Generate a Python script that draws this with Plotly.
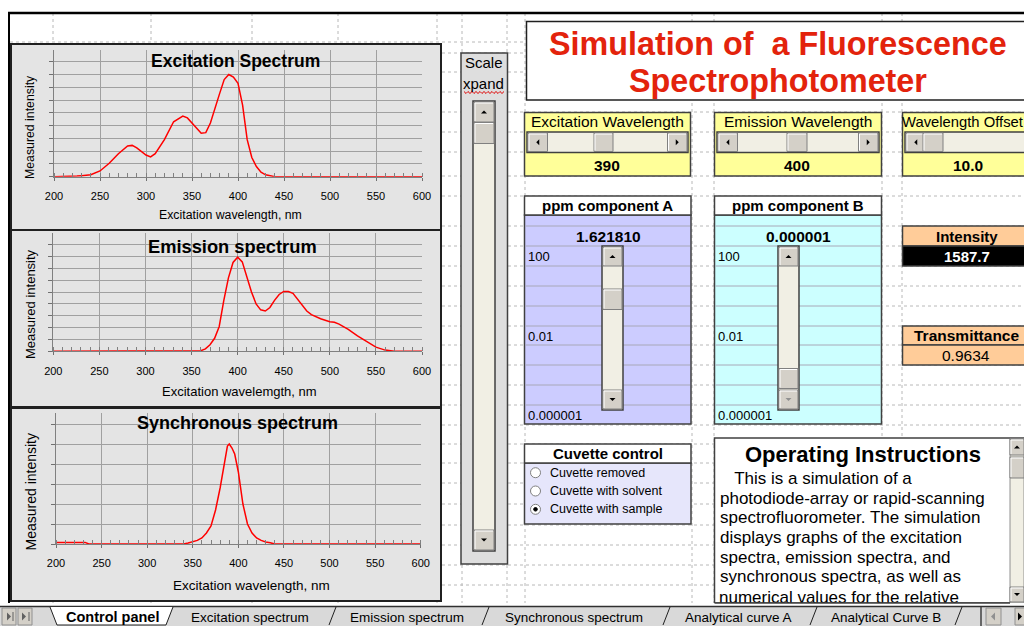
import plotly.graph_objects as go

W, H = 1024, 626
F = "Liberation Sans, Arial, sans-serif"

# ---------------- data ----------------
exc_wl = [200, 210, 220, 225, 230, 240, 250, 260, 270, 280, 285, 290, 300, 305, 310, 320, 330, 340, 345, 350,
          360, 365, 370, 380, 385, 390, 395, 400, 405, 410, 415, 420, 425, 430, 435, 440, 450, 500, 550, 600]
exc_int = [0, 0, 0, 0.05, 0.08, 0.15, 0.45, 1.05, 1.8, 2.4, 2.45, 2.25, 1.7, 1.55, 1.8, 2.9, 4.3, 4.75, 4.6, 4.2,
           3.4, 3.45, 4.2, 6.5, 7.6, 8.0, 7.8, 7.3, 5.6, 2.9, 1.5, 0.8, 0.35, 0.15, 0.05, 0, 0, 0, 0, 0]

em_wl = [200, 250, 300, 350, 355, 360, 365, 370, 375, 380, 385, 390, 395, 400, 405, 410, 415, 420, 425, 430,
         435, 440, 445, 450, 455, 460, 465, 470, 475, 480, 490, 500, 505, 510, 520, 530, 540, 550, 560, 565,
         570, 600]
em_int = [0, 0, 0, 0, 0, 0.05, 0.2, 0.55, 1.1, 2.1, 4.3, 6.2, 7.5, 7.95, 7.55, 6.3, 5.0, 4.0, 3.5, 3.4,
          3.7, 4.3, 4.8, 5.05, 5.05, 4.9, 4.4, 3.8, 3.4, 3.1, 2.75, 2.5, 2.45, 2.3, 1.85, 1.3, 0.8, 0.35, 0.1, 0.02,
          0, 0]

syn_wl = [200, 232, 236, 300, 340, 345, 350, 355, 360, 365, 370, 375, 380, 385, 388, 390, 393, 396, 400, 405,
          410, 415, 420, 425, 430, 435, 440, 500, 600]
syn_int = [0.08, 0.08, 0, 0, 0, 0.05, 0.1, 0.18, 0.3, 0.55, 0.9, 1.7, 2.8, 4.2, 4.9, 5.0, 4.8, 4.5, 3.6, 2.0,
           1.0, 0.55, 0.3, 0.18, 0.1, 0.06, 0, 0, 0]

tick_vals = [200, 250, 300, 350, 400, 450, 500, 550, 600]
tick_text = ["200", "250", "300", "350", "400", "450", "500", "550", "600"]

chart_titles = ["Excitation Spectrum", "Emission spectrum", "Synchronous spectrum"]
x_titles = ["Excitation wavelength, nm", "Excitation wavelemgth, nm", "Excitation wavelength, nm"]
y_title = "Measured intensity"

exc_value, em_value, offset_value = "390", "400", "10.0"
ppmA_value, ppmB_value = "1.621810", "0.000001"
ppm_labels = ["100", "0.01", "0.000001"]
intensity_value, transmittance_value = "1587.7", "0.9634"
cuvette_options = ["Cuvette removed", "Cuvette with solvent", "Cuvette with sample"]
cuvette_selected = 2
instructions = ["   This is a simulation of a",
                "photodiode-array or rapid-scanning",
                "spectrofluorometer. The simulation",
                "displays graphs of the excitation",
                "spectra, emission spectra, and",
                "synchronous spectra, as well as"]
instructions_cut = "numerical values for the relative"
tabs = ["Excitation spectrum", "Emission spectrum", "Synchronous spectrum", "Analytical curve A", "Analytical Curve B"]

# ---------------- helpers ----------------
shapes, ann = [], []


def X(px):
    return px / W


def Y(py):
    return 1 - py / H


def rect(x0, y0, x1, y1, fill=None, line=None, lw=1, layer="below", dash=None):
    shapes.append(dict(type="rect", xref="paper", yref="paper", x0=X(x0), x1=X(x1), y0=Y(y1), y1=Y(y0),
                       fillcolor=fill or "rgba(0,0,0,0)",
                       line=dict(color=line or "rgba(0,0,0,0)", width=lw if line else 0, dash=dash),
                       layer=layer))


def seg(x0, y0, x1, y1, color="#000", lw=1, dash=None, layer="below"):
    shapes.append(dict(type="line", xref="paper", yref="paper", x0=X(x0), x1=X(x1), y0=Y(y0), y1=Y(y1),
                       line=dict(color=color, width=lw, dash=dash), layer=layer))


def poly(pts, fill="#000", line=None, lw=1, layer="below", closed=True):
    d = "M " + " L ".join("%.5f,%.5f" % (X(a), Y(b)) for a, b in pts) + (" Z" if closed else "")
    shapes.append(dict(type="path", xref="paper", yref="paper", path=d,
                       fillcolor=fill if closed else "rgba(0,0,0,0)",
                       line=dict(color=line or "rgba(0,0,0,0)", width=lw if line else 0), layer=layer))


def circ(cx, cy, r, fill, line, lw=1):
    shapes.append(dict(type="circle", xref="paper", yref="paper", x0=X(cx - r), x1=X(cx + r),
                       y0=Y(cy + r), y1=Y(cy - r), fillcolor=fill, line=dict(color=line, width=lw),
                       layer="below"))


def txt(x, y, s, size=12, color="black", bold=False, xanchor="center", angle=0, family=F):
    ann.append(dict(xref="paper", yref="paper", x=X(x), y=Y(y), text=("<b>%s</b>" % s if bold else s),
                    showarrow=False, font=dict(size=size, color=color, family=family),
                    xanchor=xanchor, yanchor="middle", textangle=angle, borderpad=0))


BTN = "#d4d0c8"
TRACK = "#f1efe4"
EDGE = "#404040"


def button(x0, y0, x1, y1, layer="below"):
    rect(x0, y0, x1, y1, fill=BTN, line="#808080", lw=1, layer=layer)
    seg(x0 + 1, y0 + 1, x1 - 1, y0 + 1, "#ffffff", 1, layer=layer)
    seg(x0 + 1, y0 + 1, x0 + 1, y1 - 1, "#ffffff", 1, layer=layer)


def tri(cx, cy, direction, s=3, color="#000", layer="below"):
    if direction == "up":
        pts = [(cx - s, cy + s / 2), (cx + s, cy + s / 2), (cx, cy - s / 2)]
    elif direction == "down":
        pts = [(cx - s, cy - s / 2), (cx + s, cy - s / 2), (cx, cy + s / 2)]
    elif direction == "left":
        pts = [(cx + s / 2, cy - s), (cx + s / 2, cy + s), (cx - s / 2, cy)]
    else:
        pts = [(cx - s / 2, cy - s), (cx - s / 2, cy + s), (cx + s / 2, cy)]
    poly(pts, fill=color, layer=layer)


def hscroll(x0, y0, x1, y1, t0, t1, right_btn=True):
    rect(x0, y0, x1, y1, fill=TRACK, line=EDGE, lw=1.5)
    h = y1 - y0
    button(x0 + 1, y0 + 1, x0 + h, y1 - 1)
    tri(x0 + 1 + (h - 1) / 2, (y0 + y1) / 2, "left")
    if right_btn:
        button(x1 - h, y0 + 1, x1 - 1, y1 - 1)
        tri(x1 - 1 - (h - 1) / 2, (y0 + y1) / 2, "right")
    button(t0, y0 + 1, t1, y1 - 1)


def vscroll(x0, y0, x1, y1, t0, t1, down_grey=False):
    rect(x0, y0, x1, y1, fill=TRACK, line=EDGE, lw=1.5)
    w = x1 - x0
    button(x0 + 1, y0 + 1, x1 - 1, y0 + w - 1)
    tri((x0 + x1) / 2, y0 + w / 2, "up")
    button(x0 + 1, y1 - w + 1, x1 - 1, y1 - 1)
    tri((x0 + x1) / 2, y1 - w / 2, "down", color="#909090" if down_grey else "#000")
    button(x0 + 1, t0, x1 - 1, t1)


# ---------------- spreadsheet background ----------------
GRID = "#b8b8b8"
for gy in [42, 53, 72, 92, 112, 132, 152, 176, 196, 226, 246, 266, 286, 306, 326, 345, 365, 385, 405, 425,
           444, 463, 483, 504, 525, 545, 565, 585]:
    seg(10, gy, 1024, gy, GRID, 1, dash="dot")
for gx in [53, 151, 252, 338, 437, 462, 507, 525, 692, 714, 882, 902]:
    seg(gx, 13, gx, 606, GRID, 1, dash="dot")
seg(8, 13, 1024, 13, "#000", 2.5)
seg(9, 13, 9, 606, "#000", 2)

# ---------------- chart boxes ----------------
CHART_BG = "#e4e4e4"
boxes = [(11, 44, 441, 230), (11, 230, 441, 407), (11, 408, 441, 601)]
for (a, b, c, d) in boxes:
    rect(a, b, c, d, fill=CHART_BG, line="#202020", lw=2)

# plot areas: x0, x1, y of top gridline, y of baseline, number of grid steps, axis max
plots = [(54, 422, 61.7, 176.7, 9, 9.95), (53.3, 422, 244.7, 351.3, 9, 9.95), (56, 420.7, 424, 544, 6, 6.55)]
title_pos = [(235.5, 61, 17.5), (232.5, 246, 18.3), (237, 422.5, 18)]
xt_pos = [(230.5, 214.5, 12.3), (239, 391.5, 13), (251.5, 585, 13.5)]
yt_pos = [(30, 127, 12.3), (30, 304, 13), (30.5, 492, 14)]
standoff = [6, 6, 6]

fig = go.Figure()
series = [(exc_wl, exc_int), (em_wl, em_int), (syn_wl, syn_int)]
for i, ((xs, ys), (x0, x1, yt, yb, ng, ymax)) in enumerate(zip(series, plots)):
    n = "" if i == 0 else str(i + 1)
    ytop = yb - (yb - yt) / ng * ymax
    fig.add_trace(go.Scatter(x=xs, y=ys, mode="lines", line=dict(color="#ff0000", width=1.5),
                             xaxis="x" + n, yaxis="y" + n, showlegend=False, hoverinfo="skip"))
    fig.layout["xaxis" + n] = dict(domain=[X(x0), X(x1)], range=[200, 600], tickmode="array",
                                   tickvals=tick_vals, ticktext=tick_text, ticks="outside", ticklen=3,
                                   tickcolor="#707070", showgrid=True, gridcolor="#a0a0a0", gridwidth=1,
                                   showline=True, linecolor="#808080", linewidth=1, zeroline=False,
                                   tickfont=dict(size=11, family=F, color="#000"),
                                   ticklabelstandoff=standoff[i], automargin=False,
                                   minor=dict(dtick=10, tick0=200, ticks="inside", ticklen=4,
                                              tickcolor="#808080", showgrid=False),
                                   anchor="y" + n, fixedrange=True)
    fig.layout["yaxis" + n] = dict(domain=[Y(yb), Y(ytop)], range=[0, ymax], dtick=1, tick0=0,
                                   showticklabels=False, ticks="outside", ticklen=4, tickcolor="#707070",
                                   showgrid=True, gridcolor="#a0a0a0", gridwidth=1, showline=True,
                                   linecolor="#808080", zeroline=False, anchor="x" + n, fixedrange=True,
                                   automargin=False)
    tx, ty, ts = title_pos[i]
    txt(tx, ty, chart_titles[i], ts, bold=True)
    ax, ay, asz = xt_pos[i]
    txt(ax, ay, x_titles[i], asz)
    yx, yy, ysz = yt_pos[i]
    txt(yx, yy, y_title, ysz, angle=-90)

# ---------------- title box ----------------
rect(526.5, 21.5, 1030, 100, fill="#ffffff", line="#202020", lw=1.5)
txt(777.5, 44, "Simulation of&nbsp; a Fluorescence", 32.3, color="#e3230c", bold=True)
txt(778, 81.5, "Spectrophotometer", 32.3, color="#e3230c", bold=True)

# ---------------- scale expand ----------------
rect(461, 53, 507.5, 564, fill="#dedede", line=EDGE, lw=1.5)
txt(483.5, 62.5, "Scale", 15)
txt(483, 83.5, "xpand", 15)
zz = []
for k in range(21):
    zz.append((464 + k * 2, 92.5 + (1 if k % 2 else -1)))
poly(zz, line="#e00000", lw=1, closed=False)
vscroll(473, 101, 495, 551, 122.5, 143.5)

# ---------------- wavelength controls ----------------
YEL = "#ffff99"
for (x0, x1, label, val, t0, t1, lx, vx, lsz, lanc) in [
        (524.5, 690.5, "Excitation Wavelength", exc_value, 594, 613, 607, 607, 15.5, "center"),
        (714.5, 881.5, "Emission Wavelength", em_value, 787, 807, 798, 797, 15.5, "center"),
        (902.5, 1030, "Wavelength Offset", offset_value, 923, 943, 901, 968, 14.8, "left")]:
    rect(x0, 112.5, x1, 176, fill=YEL, line=EDGE, lw=1.5)
    txt(lx, 121.7, label, lsz, xanchor=lanc)
    hscroll(x0 + 2.5, 132, min(x1 - 2.5, 1040), 152.5, t0, t1, right_btn=(x1 < 1000))
    txt(vx, 165.5, val, 15.5, bold=True)

# ---------------- ppm components ----------------
for (x0, x1, label, val, col, s0, s1, grey, thumb) in [
        (524.5, 691, "ppm component A", ppmA_value, "#ccccff", 602, 623, False, (289, 309.5)),
        (714.5, 881.5, "ppm component B", ppmB_value, "#ccffff", 778, 799, True, (368.5, 388.5))]:
    rect(x0, 215, x1, 424, fill=col, line=EDGE, lw=1.5)
    for gy in [226, 246, 266, 286, 306, 326, 345, 365, 385, 405]:
        seg(x0 + 1, gy, x1 - 1, gy, "#a8a8b8", 1)
    rect(x0, 196, x1, 215, fill="#ffffff", line=EDGE, lw=1.5)
    txt((x0 + x1) / 2, 206, label, 15, bold=True)
    txt((x0 + x1) / 2 + 0.5, 236, val, 15.5, bold=True)
    for lab, ly in zip(ppm_labels, [256, 336, 415]):
        txt(x0 + 2, ly, lab, 13, xanchor="left")
    vscroll(s0, 246, s1, 410, thumb[0], thumb[1], down_grey=grey)

# ---------------- intensity / transmittance ----------------
PEACH = "#ffcc99"
rect(902.5, 226, 1030, 246, fill=PEACH, line=EDGE, lw=1.5)
txt(966.5, 236, "Intensity", 15, bold=True)
rect(902.5, 246, 1030, 266, fill="#000000", line=EDGE, lw=1.5)
txt(966.5, 256, intensity_value, 15, color="#ffffff", bold=True)
rect(902.5, 326, 1030, 345, fill=PEACH, line=EDGE, lw=1.5)
txt(966, 335.5, "Transmittance", 15.5, bold=True)
rect(902.5, 345, 1030, 365, fill=PEACH, line=EDGE, lw=1.5)
txt(966, 355, transmittance_value, 15.5)

# ---------------- cuvette control ----------------
rect(524.5, 463, 691, 524, fill="#e6e6fb", line=EDGE, lw=1.5)
rect(524.5, 444, 691, 463, fill="#ffffff", line=EDGE, lw=1.5)
txt(608, 453.5, "Cuvette control", 15, bold=True)
for k, (opt, oy) in enumerate(zip(cuvette_options, [472.7, 491, 509.3])):
    circ(535.5, oy, 5, "#ffffff", "#808080", 1)
    if k == cuvette_selected:
        circ(535.5, oy, 1.8, "#000000", "#000000", 1)
    txt(549, oy, opt, 12.5, xanchor="left")

# ---------------- operating instructions ----------------
rect(714.5, 438, 1030, 603, fill="#ffffff", line=EDGE, lw=1.5)
rect(1010, 439, 1024, 603, fill=TRACK, line="#909090", lw=1)
button(1010, 439, 1024, 455)
tri(1017, 447, "up", 3)
button(1010, 457, 1024, 478)
button(1010, 587, 1024, 602)
tri(1017, 594.5, "down", 3)
txt(862.5, 454, "Operating Instructions", 22, bold=True)
for k, line in enumerate(instructions):
    txt(719, 478.3 + k * 19.7, line.replace("   ", "&nbsp;&nbsp;&nbsp;"), 17, xanchor="left")

# clipped last line: text trace on a full-page axis, then covered by shapes above
fig.add_trace(go.Scatter(x=[719], y=[598.5], mode="text", text=[instructions_cut], textposition="middle right",
                         textfont=dict(size=17, family=F, color="#000"), xaxis="x4", yaxis="y4",
                         showlegend=False, hoverinfo="skip"))
fig.layout["xaxis4"] = dict(domain=[0, 1], range=[0, W], visible=False, fixedrange=True, automargin=False)
fig.layout["yaxis4"] = dict(domain=[0, 1], range=[H, 0], visible=False, fixedrange=True, automargin=False)

# ---------------- sheet tab bar (above) ----------------
rect(0, 603, 1024, 606, fill="#ffffff", layer="above")
seg(714.5, 603, 1010, 603, EDGE, 1.5, layer="above")
rect(0, 606, 1024, 626, fill="#d9d9d9", layer="above")
seg(0, 606.5, 1024, 606.5, "#303030", 1.5, layer="above")
for bx in [2, 18]:
    rect(bx, 608, bx + 14, 625, fill="#d4d0c8", line="#909090", layer="above")
tri(9, 616.5, "right", 4, "#606060", layer="above")
tri(24, 616.5, "right", 4, "#606060", layer="above")
seg(13, 612, 13, 621, "#606060", 1, layer="above")
seg(29, 612, 29, 621, "#606060", 1, layer="above")
# active tab
shapes.append(dict(type="path", xref="paper", yref="paper", layer="above", fillcolor="#ffffff",
                   line=dict(color="#202020", width=1),
                   path="M %f,%f L %f,%f L %f,%f L %f,%f" % (X(50), Y(607), X(57), Y(625), X(166), Y(625),
                                                             X(173), Y(607))))
ann.append(dict(xref="paper", yref="paper", x=X(112), y=Y(617), text="<b>Control panel</b>", showarrow=False,
                xanchor="center", yanchor="middle", font=dict(size=14.5, family=F, color="#000")))
tab_centers = [250, 407, 573.5, 738.5, 885.5]
for tname, tcx in zip(tabs, tab_centers):
    ann.append(dict(xref="paper", yref="paper", x=X(tcx), y=Y(617), text=tname, showarrow=False,
                    xanchor="center", yanchor="middle", font=dict(size=13.5, family=F, color="#000")))
for sx in [332, 485, 666, 813, 958]:
    shapes.append(dict(type="line", xref="paper", yref="paper", layer="above",
                       x0=X(sx - 3), y0=Y(625), x1=X(sx + 4), y1=Y(607), line=dict(color="#202020", width=1)))
seg(981, 607, 981, 626, "#404040", 1.5, layer="above")
rect(986, 608, 1001, 625, fill="#d4d0c8", line="#909090", layer="above")
rect(1015, 608, 1030, 625, fill="#d4d0c8", line="#909090", layer="above")
tri(993, 616.5, "left", 4, "#909090", layer="above")
tri(1020, 616.5, "right", 4, "#000000", layer="above")

fig.update_layout(width=W, height=H, autosize=False,
                  margin=dict(l=0, r=0, t=0, b=0, pad=0, autoexpand=False), paper_bgcolor="#ffffff",
                  plot_bgcolor="rgba(0,0,0,0)", shapes=shapes, annotations=ann, showlegend=False,
                  font=dict(family=F))
fig.write_html("out.html", config={"displayModeBar": False, "responsive": False},
               post_script=("document.body.style.margin='0';document.body.style.overflow='hidden';"))
